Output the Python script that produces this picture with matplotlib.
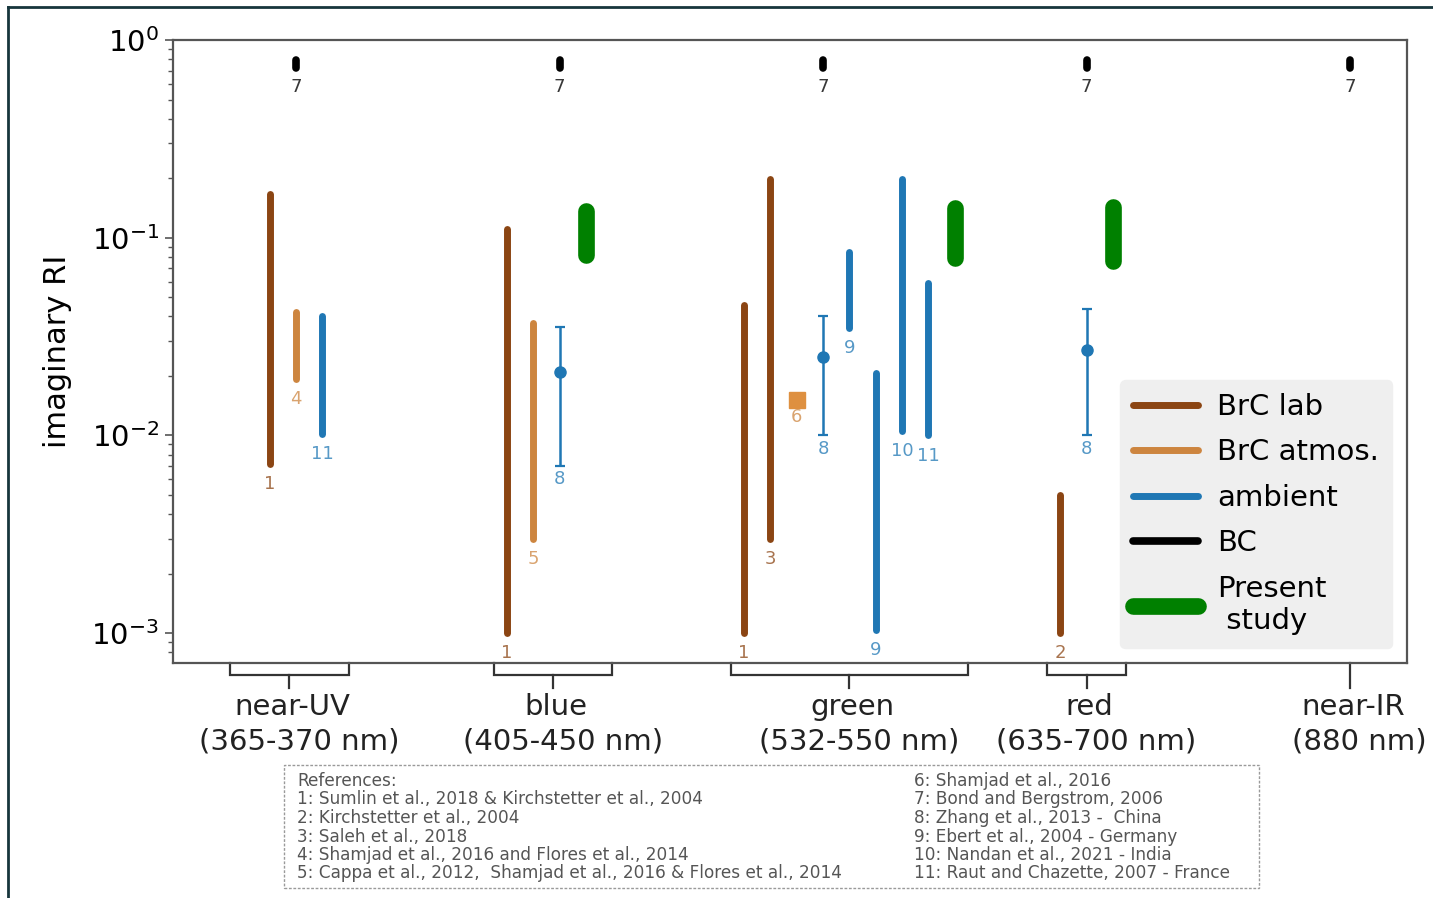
import numpy as np
import matplotlib
matplotlib.use('Agg')
import matplotlib.pyplot as plt
from matplotlib.lines import Line2D
from matplotlib.patches import Rectangle

plt.rcParams['font.family'] = ['DejaVu Sans']

# ---------------- data ----------------
bands = ['near-UV', 'blue', 'green', 'red', 'near-IR']
band_ranges = ['(365-370 nm)', '(405-450 nm)', '(532-550 nm)', '(635-700 nm)', '(880 nm)']
band_pos = [0, 1, 2, 3, 4]
bracket_lo = [-0.25, 0.75, 1.65, 2.85, 4.0]
bracket_hi = [0.2, 1.2, 2.55, 3.15, 4.0]

# BrC lab (ranges)
brc_lab_x = [-0.1, 0.8, 1.7, 1.8, 2.9]
brc_lab_lo = [0.0072, 0.001, 0.001, 0.003, 0.001]
brc_lab_hi = [0.167, 0.111, 0.0457, 0.199, 0.0050]
brc_lab_ref = ['1', '1', '1', '3', '2']

# BrC atmospheric (ranges)
brc_atm_x = [0.0, 0.9]
brc_atm_lo = [0.0194, 0.003]
brc_atm_hi = [0.0423, 0.0372]
brc_atm_ref = ['4', '5']
# BrC atmospheric (single value)
brc_atm_pt_x = [1.9]
brc_atm_pt_val = [0.0151]
brc_atm_pt_ref = ['6']

# ambient (ranges)
amb_x = [0.1, 2.1, 2.2, 2.3, 2.4]
amb_lo = [0.0102, 0.035, 0.00104, 0.0105, 0.010]
amb_hi = [0.040, 0.0847, 0.0206, 0.199, 0.0587]
amb_ref = ['11', '9', '9', '10', '11']
# ambient (mean with error bar, ref 8)
amb_eb_x = [1.0, 2.0, 3.0]
amb_eb_val = [0.0209, 0.025, 0.027]
amb_eb_lo = [0.0070, 0.010, 0.010]
amb_eb_hi = [0.0353, 0.0402, 0.0435]
amb_eb_ref = ['8', '8', '8']

# BC
bc_x = [0, 1, 2, 3, 4]
bc_lo = [0.72, 0.72, 0.72, 0.72, 0.72]
bc_hi = [0.79, 0.79, 0.79, 0.79, 0.79]
bc_ref = ['7', '7', '7', '7', '7']

# Present study
ps_x = [1.1, 2.5, 3.1]
ps_lo = [0.0818, 0.0789, 0.0762]
ps_hi = [0.136, 0.141, 0.143]

references_left = ['References:',
                   '1: Sumlin et al., 2018 & Kirchstetter et al., 2004',
                   '2: Kirchstetter et al., 2004',
                   '3: Saleh et al., 2018',
                   '4: Shamjad et al., 2016 and Flores et al., 2014',
                   '5: Cappa et al., 2012,  Shamjad et al., 2016 & Flores et al., 2014']
references_right = ['6: Shamjad et al., 2016',
                    '7: Bond and Bergstrom, 2006',
                    '8: Zhang et al., 2013 -  China',
                    '9: Ebert et al., 2004 - Germany',
                    '10: Nandan et al., 2021 - India',
                    '11: Raut and Chazette, 2007 - France']

# ---------------- style ----------------
C_LAB = '#8B4513'
C_ATM = '#CD853F'
C_AMB = '#1f77b4'
C_BC = 'black'
C_PS = 'green'

W, H = 1433, 898
fig = plt.figure(figsize=(W / 100, H / 100), dpi=100)
ax = fig.add_axes([173 / W, 1 - 663 / H, (1407 - 173) / W, (663 - 40) / H])
ax.set_yscale('log')
ax.set_xlim(-0.4668, 4.2163)
ax.set_ylim(10 ** (-3.151), 1.0)

LW = 5
lab_fs = 13


def ref_label(x, y, txt, color, dy, alpha=0.75):
    ax.annotate(txt, xy=(x, y), xytext=(0, -dy), textcoords='offset points',
                ha='center', va='top', fontsize=lab_fs, color=color, alpha=alpha)


h_lab = h_atm = h_amb = h_bc = h_ps = None
for x, lo, hi, r in zip(brc_lab_x, brc_lab_lo, brc_lab_hi, brc_lab_ref):
    l, = ax.plot([x, x], [lo, hi], color=C_LAB, lw=LW, solid_capstyle='round')
    h_lab = h_lab or l
    ref_label(x, lo, r, C_LAB, 8)

for x, lo, hi, r in zip(brc_atm_x, brc_atm_lo, brc_atm_hi, brc_atm_ref):
    l, = ax.plot([x, x], [lo, hi], color=C_ATM, lw=LW, solid_capstyle='round')
    h_atm = h_atm or l
    ref_label(x, lo, r, C_ATM, 8)

for x, v, r in zip(brc_atm_pt_x, brc_atm_pt_val, brc_atm_pt_ref):
    ax.plot([x], [v], marker='s', ms=12, color='#DE9040', ls='none')
    ref_label(x, v, r, C_ATM, 6)

for x, lo, hi, r in zip(amb_x, amb_lo, amb_hi, amb_ref):
    l, = ax.plot([x, x], [lo, hi], color=C_AMB, lw=LW, solid_capstyle='round')
    h_amb = h_amb or l
    ref_label(x, lo, r, C_AMB, 8)

eb_val = np.array(amb_eb_val)
eb_err = np.vstack([eb_val - np.array(amb_eb_lo), np.array(amb_eb_hi) - eb_val])
ax.errorbar(amb_eb_x, eb_val, yerr=eb_err, fmt='o', color=C_AMB, ms=8,
            elinewidth=1.8, capsize=3.8, capthick=1.6)
for x, lo, r in zip(amb_eb_x, amb_eb_lo, amb_eb_ref):
    ref_label(x, lo, r, C_AMB, 3)

for x, lo, hi, r in zip(bc_x, bc_lo, bc_hi, bc_ref):
    l, = ax.plot([x, x], [lo, hi], color=C_BC, lw=5.5, solid_capstyle='round')
    h_bc = h_bc or l
    ref_label(x, lo, r, '#222222', 7, alpha=0.9)

for x, lo, hi in zip(ps_x, ps_lo, ps_hi):
    l, = ax.plot([x, x], [lo, hi], color=C_PS, lw=12, solid_capstyle='round')
    h_ps = h_ps or l

# axes styling
for s in ax.spines.values():
    s.set_color('#555555')
    s.set_linewidth(1.6)
ax.set_xticks([])
ax.tick_params(axis='y', which='major', labelsize=21, length=6, width=1.2,
               color='#555555', pad=4)
ax.tick_params(axis='y', which='minor', length=3.5, width=1.0, color='#555555')
ax.set_ylabel('imaginary RI', fontsize=22, labelpad=14)

# brackets + band labels below axis
xt = ax.get_xaxis_transform()
ah = (663 - 40)
d1 = 12 / ah
d2 = 25 / ah
for name, rng, c, lo, hi in zip(bands, band_ranges, band_pos, bracket_lo, bracket_hi):
    mid = 0.5 * (lo + hi)
    if hi > lo:
        ax.plot([lo, lo, hi, hi], [0, -d1, -d1, 0], color='#333333', lw=1.6,
                transform=xt, clip_on=False, solid_joinstyle='miter')
        ax.plot([mid, mid], [-d1, -d2], color='#333333', lw=1.6,
                transform=xt, clip_on=False)
    else:
        ax.plot([mid, mid], [0, -d2], color='#333333', lw=1.6,
                transform=xt, clip_on=False)
    ax.annotate(name, xy=(mid, 0), xycoords=xt, xytext=(2, -37.5),
                textcoords='offset points', ha='center', va='baseline',
                fontsize=21, color='#222222', annotation_clip=False)
    ax.annotate(rng, xy=(mid, 0), xycoords=xt, xytext=(7, -62.5),
                textcoords='offset points', ha='center', va='baseline',
                fontsize=21, color='#222222', annotation_clip=False)

# legend
leg = ax.legend([h_lab, h_atm, h_amb, h_bc, h_ps],
                ['BrC lab', 'BrC atmos.', 'ambient', 'BC', 'Present\n study'],
                loc='lower right', fontsize=21, facecolor='#efefef',
                edgecolor='#efefef', framealpha=1.0, handlelength=2.25,
                labelspacing=0.6, handletextpad=0.65, borderpad=0.45)

# references box
fig.patches.append(Rectangle((284 / W, 1 - 888 / H), (1259 - 284) / W, (888 - 765) / H,
                             transform=fig.transFigure, fill=False,
                             edgecolor='#9a9a9a', lw=1.0, linestyle=(0, (2, 1.2))))
ys = [781, 799.5, 818, 836.5, 855, 873.5]
for t, y in zip(references_left, ys):
    fig.text(297 / W, 1 - y / H, t, fontsize=12.2, color='#555555', ha='left', va='center')
for t, y in zip(references_right, ys):
    fig.text(914 / W, 1 - y / H, t, fontsize=12.2, color='#555555', ha='left', va='center')

# image border (top and left)
fig.add_artist(Line2D([8 / W, 1.0], [1 - 7 / H, 1 - 7 / H], transform=fig.transFigure,
                      color='#17363c', lw=2.0))
fig.add_artist(Line2D([8 / W, 8 / W], [0, 1 - 7 / H], transform=fig.transFigure,
                      color='#17363c', lw=2.0))

fig.savefig('out.png', dpi=100)
